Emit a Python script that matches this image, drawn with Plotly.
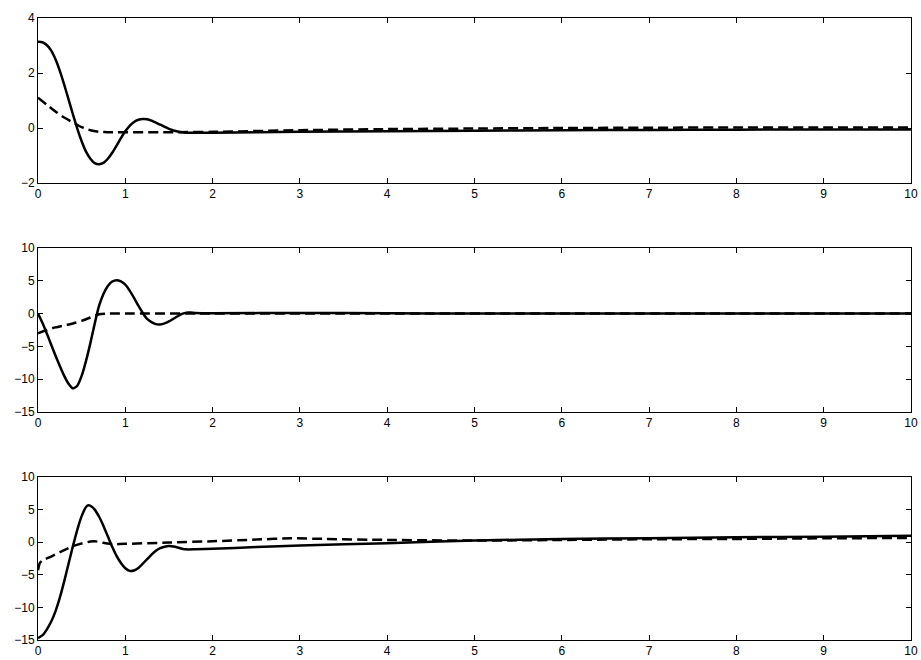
import plotly.graph_objects as go

# Subplot 1
t1_solid = [0, 0.05, 0.1, 0.15, 0.2, 0.25, 0.3, 0.35, 0.4, 0.45, 0.5, 0.55, 0.6, 0.65, 0.7, 0.75, 0.8, 0.85, 0.9, 0.95, 1.0,
            1.05, 1.1, 1.15, 1.2, 1.25, 1.3, 1.4, 1.5, 1.6, 1.7, 2, 3, 4, 5, 6, 7, 8, 9, 10]
y1_solid = [3.14, 3.12, 3.02, 2.82, 2.5, 2.08, 1.58, 1.04, 0.5, -0.02, -0.48, -0.86, -1.12, -1.28, -1.32, -1.27, -1.12, -0.9, -0.64, -0.37, -0.12,
            0.08, 0.22, 0.3, 0.33, 0.32, 0.27, 0.12, -0.03, -0.13, -0.17, -0.17, -0.14, -0.12, -0.1, -0.08, -0.07, -0.06, -0.05, -0.05]
t1_dash = [0, 0.1, 0.2, 0.3, 0.4, 0.5, 0.6, 0.7, 0.8, 1.6, 2, 3, 4, 5, 6, 7, 8, 9, 10]
y1_dash = [1.1, 0.85, 0.6, 0.38, 0.2, 0.03, -0.08, -0.14, -0.15, -0.15, -0.14, -0.08, -0.04, -0.02, 0.0, 0.01, 0.02, 0.02, 0.02]

# Subplot 2
t2_solid = [0, 0.05, 0.1, 0.15, 0.2, 0.25, 0.3, 0.35, 0.4, 0.45, 0.5, 0.55, 0.6, 0.65, 0.7, 0.75, 0.8, 0.85, 0.9, 0.95, 1.0,
            1.05, 1.1, 1.15, 1.2, 1.25, 1.3, 1.35, 1.4, 1.45, 1.5, 1.55, 1.6, 1.65, 1.7, 1.75, 1.8, 2, 3, 4, 5, 6, 7, 8, 9, 10]
y2_solid = [0, -1.4, -3.0, -4.7, -6.4, -8.0, -9.5, -10.7, -11.4, -11.0, -9.5, -7.2, -4.5, -1.5, 1.2, 3.0, 4.2, 4.9, 5.1, 4.9, 4.4,
            3.5, 2.4, 1.2, 0.1, -0.8, -1.3, -1.6, -1.65, -1.5, -1.2, -0.8, -0.4, -0.05, 0.15, 0.15, 0.1, 0.05, 0.1, 0.05, 0, 0, 0, 0, 0, 0]
t2_dash = [0, 0.1, 0.2, 0.3, 0.4, 0.5, 0.6, 0.7, 0.8, 2, 4, 6, 8, 10]
y2_dash = [-3.0, -2.5, -2.1, -1.8, -1.5, -1.1, -0.6, -0.1, 0, 0, 0, 0, 0, 0]

# Subplot 3
t3_solid = [0, 0.05, 0.1, 0.15, 0.2, 0.25, 0.3, 0.35, 0.4, 0.45, 0.5, 0.55, 0.58, 0.62, 0.65, 0.7, 0.75, 0.8, 0.85, 0.9, 0.95, 1.0,
            1.05, 1.1, 1.15, 1.2, 1.25, 1.3, 1.35, 1.4, 1.45, 1.5, 1.55, 1.6, 1.65, 1.7, 1.8, 2, 2.5, 3, 4, 5, 6, 7, 8, 9, 10]
y3_solid = [-14.7, -14.3, -13.4, -12.2, -10.6, -8.5, -6.0, -3.3, -0.6, 1.9, 4.0, 5.4, 5.65, 5.4, 5.0, 3.9, 2.5, 0.9, -0.7, -2.1, -3.2, -4.0,
            -4.4, -4.35, -3.95, -3.3, -2.6, -1.9, -1.3, -0.9, -0.7, -0.6, -0.65, -0.8, -1.0, -1.1, -1.08, -1.0, -0.75, -0.5, -0.15, 0.25, 0.5, 0.6, 0.75, 0.85, 1.0]
t3_dash = [0, 0.02, 0.05, 0.15, 0.3, 0.4, 0.5, 0.6, 0.65, 0.75, 0.85, 1.0, 1.5, 2, 2.5, 2.9, 3.3, 4, 5, 6, 7, 8, 9, 10]
y3_dash = [-4.3, -3.2, -2.8, -2.2, -1.2, -0.6, -0.2, 0.1, 0.15, -0.1, -0.3, -0.25, -0.05, 0.15, 0.4, 0.6, 0.5, 0.35, 0.25, 0.35, 0.45, 0.5, 0.6, 0.65]

x_ticks = list(range(0, 11))
y1_ticks = [-2, 0, 2, 4]
y23_ticks = [-15, -10, -5, 0, 5, 10]

fig = go.Figure()
series = [
    (t1_solid, y1_solid, t1_dash, y1_dash, "x", "y"),
    (t2_solid, y2_solid, t2_dash, y2_dash, "x2", "y2"),
    (t3_solid, y3_solid, t3_dash, y3_dash, "x3", "y3"),
]
for ts, ys, td, yd, xa, ya in series:
    fig.add_trace(go.Scatter(x=td, y=yd, mode="lines", xaxis=xa, yaxis=ya,
                             line=dict(color="black", width=2.5, dash="10px,5px", shape="spline", smoothing=0.6),
                             showlegend=False))
    fig.add_trace(go.Scatter(x=ts, y=ys, mode="lines", xaxis=xa, yaxis=ya,
                             line=dict(color="black", width=2.5, shape="spline", smoothing=0.6),
                             showlegend=False))

H = 622.0
domains = [
    [(640 - 183) / H, 1.0],
    [(640 - 412) / H, (640 - 248) / H],
    [0.0, (640 - 477) / H],
]
axstyle = dict(showline=True, linecolor="black", linewidth=1, mirror="ticks",
               ticks="inside", ticklen=5, tickcolor="black", showgrid=False,
               zeroline=False, automargin=False,
               tickfont=dict(family="Liberation Sans, Arial", size=12, color="black"))

layout = dict(width=921, height=660, margin=dict(l=38, r=10, t=18, b=20),
              plot_bgcolor="white", paper_bgcolor="white", showlegend=False)
yranges = [[-2, 4], [-15, 10], [-15, 10]]
yticks = [y1_ticks, y23_ticks, y23_ticks]
for i in range(3):
    xn = "xaxis" if i == 0 else f"xaxis{i+1}"
    yn = "yaxis" if i == 0 else f"yaxis{i+1}"
    ax_anchor = "y" if i == 0 else f"y{i+1}"
    ay_anchor = "x" if i == 0 else f"x{i+1}"
    layout[xn] = dict(axstyle, domain=[0, 1], range=[0, 10], tickvals=x_ticks, anchor=ax_anchor)
    layout[yn] = dict(axstyle, domain=domains[i], range=yranges[i], tickvals=yticks[i], anchor=ay_anchor)

fig.update_layout(**layout)
fig.write_html("out.html", config={"displayModeBar": False},
               post_script="document.body.style.margin='0';document.body.style.overflow='hidden';")
